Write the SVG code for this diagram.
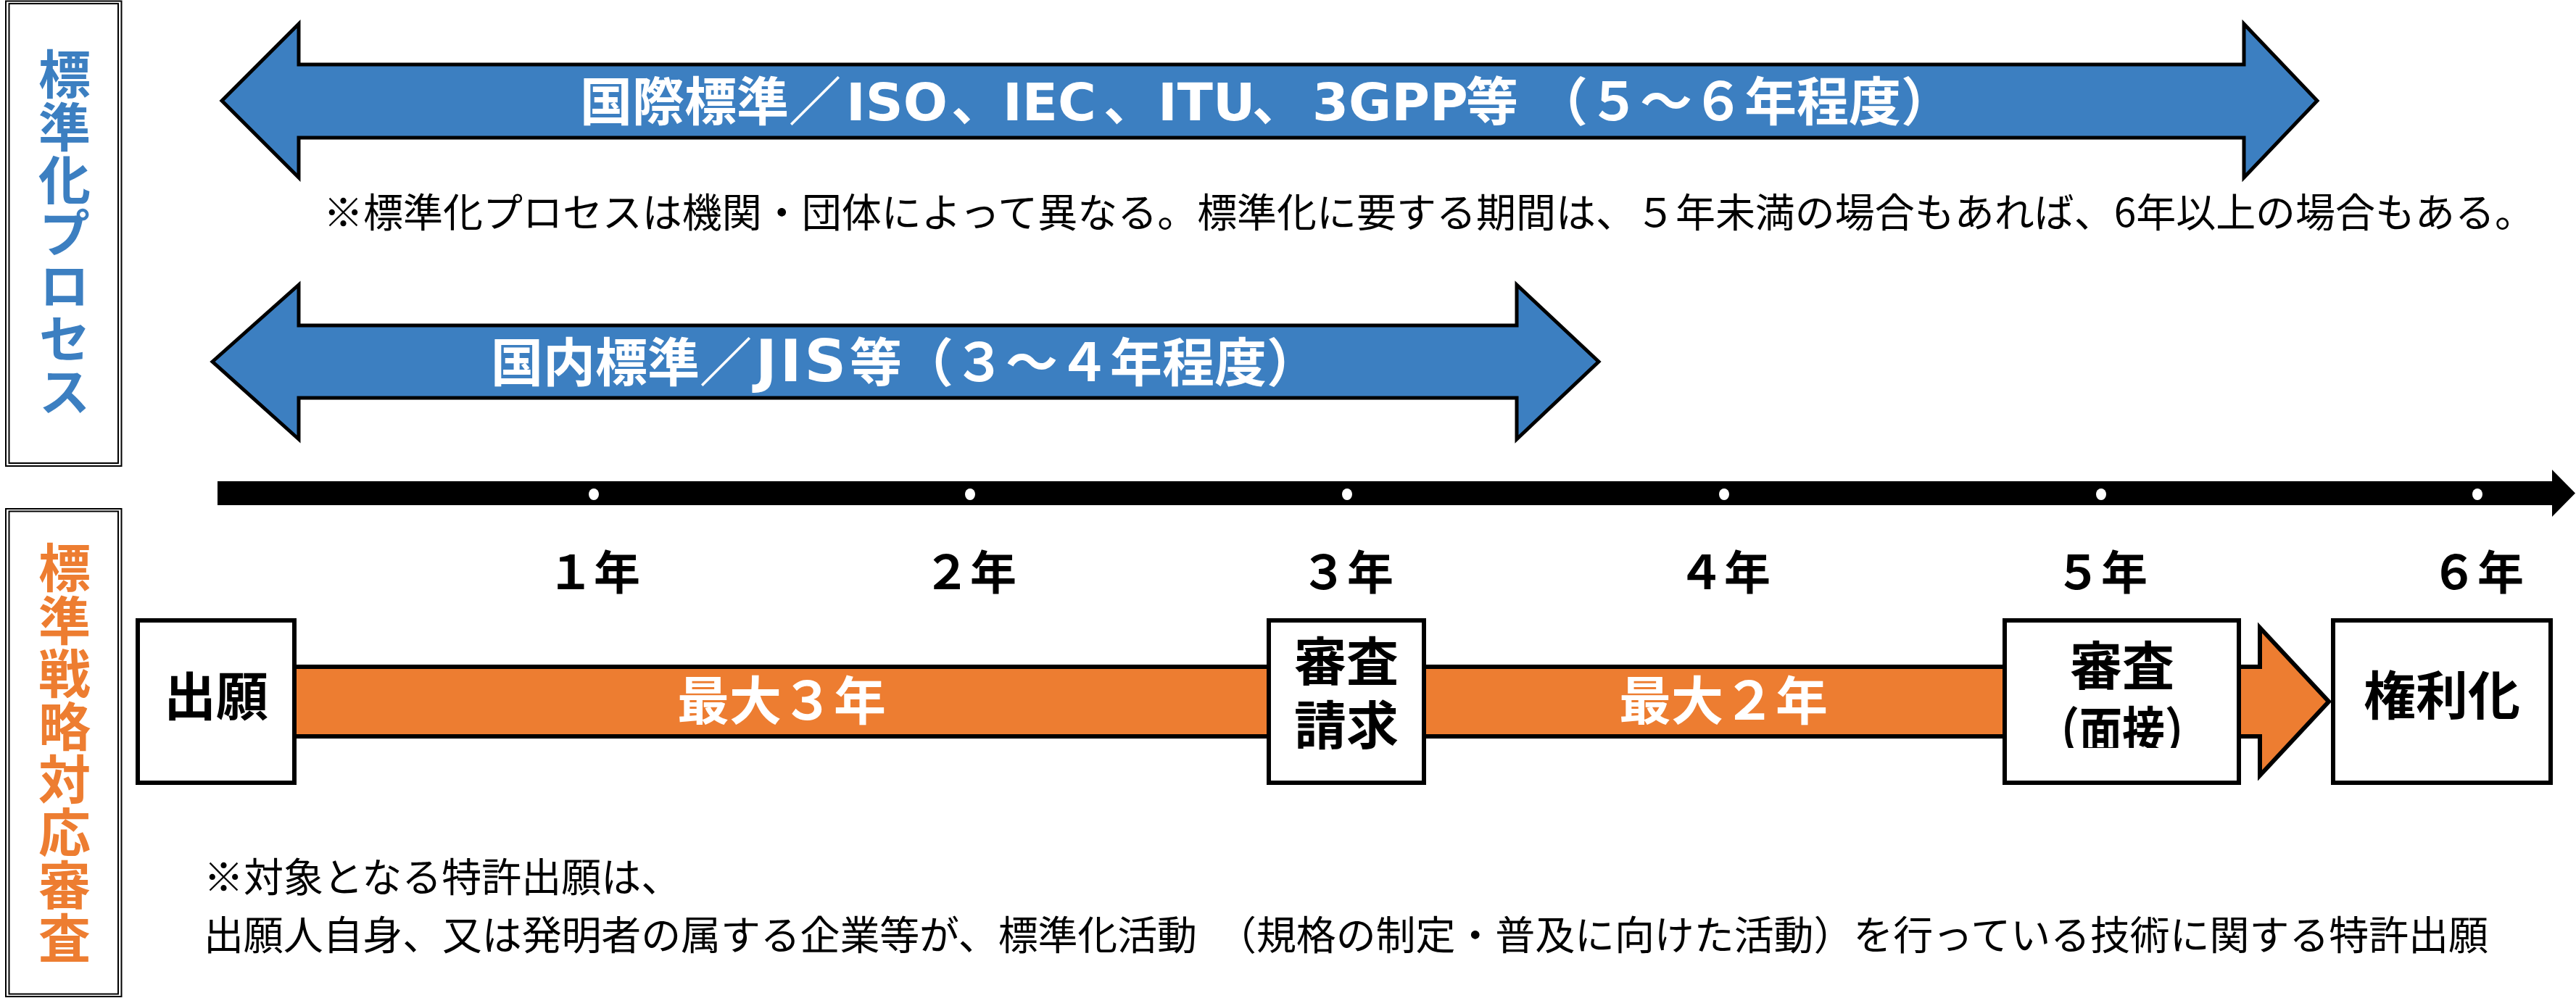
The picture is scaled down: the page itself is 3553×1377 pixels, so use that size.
<svg xmlns="http://www.w3.org/2000/svg" width="3553" height="1377" viewBox="0 0 3553 1377">
<style>
text{font-family:"Noto Sans CJK JP","Noto Sans CJK SC",sans-serif}
.lat{font-family:"DejaVu Sans","Noto Sans CJK JP",sans-serif;font-weight:bold}
.frame{fill:none;stroke:#000;stroke-width:2}
.vt{font-size:72px;font-weight:bold;writing-mode:vertical-rl;letter-spacing:1px}
.blue{fill:#3C7FC1}
.orange{fill:#ED7D31}
.barrow{fill:#3C7FC1;stroke:#000;stroke-width:5;stroke-linejoin:miter}
.oarrow{fill:#ED7D31;stroke:#000;stroke-width:6;stroke-linejoin:miter}
.title{font-size:72px;font-weight:bold;fill:#fff}
.note{font-size:55px;fill:#000}
.yr{font-size:64px;font-weight:bold;fill:#000;text-anchor:middle}
.box{fill:#fff;stroke:#000;stroke-width:6}
.bx{font-size:72px;font-weight:bold;fill:#000;text-anchor:middle}
.bt{font-size:72px;font-weight:bold;fill:#fff;text-anchor:middle}
.dot{fill:#fff}
</style>
<defs>
<clipPath id="clipInterview"><rect x="2765" y="856" width="323" height="176"/></clipPath>
</defs>
<rect width="3553" height="1377" fill="#fff"/>

<g id="label-standardization">
<rect class="frame" x="8" y="1.5" width="159.5" height="641.5"/>
<rect class="frame" x="12.5" y="5" width="150.5" height="634"/>
<text class="vt blue" x="89" y="66">標準化プロセス</text>
</g>

<g id="label-examination">
<rect class="frame" x="8" y="702" width="159.5" height="673"/>
<rect class="frame" x="12.5" y="705.5" width="150.5" height="666"/>
<text class="vt orange" x="89" y="747">標準戦略対応審査</text>
</g>

<g id="arrow-international">
<polygon class="barrow" points="306,139 412,33 412,89 3095,89 3095,33 3196,139 3095,245 3095,190 412,190 412,245"/>
<text class="title" y="166"><tspan x="800">国際標準／</tspan><tspan class="lat" x="1167">ISO</tspan><tspan x="1312">、</tspan><tspan class="lat" x="1383">IEC</tspan><tspan x="1522">、</tspan><tspan class="lat" x="1597">ITU</tspan><tspan x="1727">、</tspan><tspan class="lat" x="1810">3GPP</tspan><tspan x="2022">等</tspan><tspan x="2118">（５～６年程度）</tspan></text>
</g>

<g id="note-standardization">
<text class="note" x="446" y="313" textLength="3050">※標準化プロセスは機関・団体によって異なる。標準化に要する期間は、５年未満の場合もあれば、6年以上の場合もある。</text>
</g>

<g id="arrow-domestic">
<polygon class="barrow" points="293,499 412,393 412,449 2092,449 2092,393 2205,499 2092,606 2092,549 412,549 412,606"/>
<text class="title" y="526"><tspan x="677">国内標準／</tspan><tspan class="lat" x="1042" style="font-size:80px;letter-spacing:4px">JIS</tspan><tspan x="1172">等</tspan><tspan x="1243">（３～４年程度）</tspan></text>
</g>

<g id="timeline">
<polygon fill="#000" points="300,664 3520,664 3520,648 3552,680.5 3520,713 3520,697 300,697"/>
<ellipse class="dot" cx="819" cy="682" rx="7" ry="8"/>
<ellipse class="dot" cx="1338" cy="682" rx="7" ry="8"/>
<ellipse class="dot" cx="1858" cy="682" rx="7" ry="8"/>
<ellipse class="dot" cx="2378" cy="682" rx="7" ry="8"/>
<ellipse class="dot" cx="2898" cy="682" rx="7" ry="8"/>
<ellipse class="dot" cx="3417" cy="682" rx="7" ry="8"/>
<text class="yr" x="819" y="813">１年</text>
<text class="yr" x="1338" y="813">２年</text>
<text class="yr" x="1858" y="813">３年</text>
<text class="yr" x="2378" y="813">４年</text>
<text class="yr" x="2898" y="813">５年</text>
<text class="yr" x="3417" y="813">６年</text>
</g>

<g id="connectors">
<rect class="oarrow" x="380" y="920" width="1400" height="96"/>
<rect class="oarrow" x="1940" y="920" width="850" height="96"/>
<polygon class="oarrow" points="3070,920 3117,920 3117,866 3212,968 3117,1070 3117,1016 3070,1016"/>
<text class="bt" x="1078" y="993">最大３年</text>
<text class="bt" x="2377" y="993">最大２年</text>
</g>

<g id="node-filing">
<rect class="box" x="190" y="856" width="216" height="224"/>
<text class="bx" x="298" y="987">出願</text>
</g>

<g id="node-request">
<rect class="box" x="1750" y="856" width="214" height="224"/>
<text class="bx" x="1857" y="939">審査</text>
<text class="bx" x="1857" y="1027">請求</text>
</g>

<g id="node-interview">
<rect class="box" x="2765" y="856" width="323" height="224"/>
<text class="bx" x="2927" y="945">審査</text>
<text class="bx" x="2927" y="1035" textLength="236" lengthAdjust="spacingAndGlyphs" clip-path="url(#clipInterview)">（面接）</text>
</g>

<g id="node-grant">
<rect class="box" x="3218" y="856" width="300" height="224"/>
<text class="bx" x="3368" y="986">権利化</text>
</g>

<g id="note-target">
<text class="note" x="281" y="1230">※対象となる特許出願は、</text>
<text class="note" x="281" y="1310" textLength="1370">出願人自身、又は発明者の属する企業等が、標準化活動</text>
<text class="note" x="1678" y="1310" textLength="1754">（規格の制定・普及に向けた活動）を行っている技術に関する特許出願</text>
</g>
</svg>
